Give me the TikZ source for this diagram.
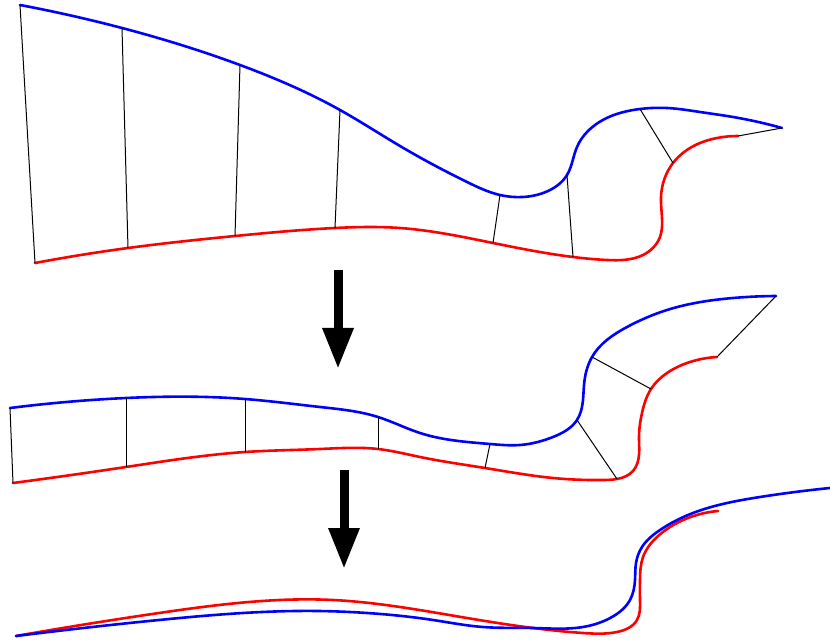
\documentclass[tikz,border=0pt]{standalone}
\usetikzlibrary{arrows.meta,hobby}
\begin{document}
\begin{tikzpicture}[x=1pt,y=-1pt,
  upper/.style={blue,line width=2.6pt,line cap=round,line join=round,use Hobby shortcut},
  lower/.style={red,line width=2.6pt,line cap=round,line join=round,use Hobby shortcut},
  rung/.style={black,line width=1pt},
  stage/.style={line width=9pt,-{Triangle[width=29pt,length=41pt]}}]
\useasboundingbox (0,0) rectangle (830,644);

% ---------- first stage: initial pair of curves ----------
\coordinate (ta1) at (20,5);   \coordinate (tb1) at (35,263);
\coordinate (ta2) at (122,28); \coordinate (tb2) at (128,248);
\coordinate (ta3) at (240,65); \coordinate (tb3) at (235,236);
\coordinate (ta4) at (340,110);\coordinate (tb4) at (335,228);
\coordinate (ta5) at (500,195);\coordinate (tb5) at (493,243);
\coordinate (ta6) at (567,175);\coordinate (tb6) at (573,257);
\coordinate (ta7) at (640,109);\coordinate (tb7) at (673,163);
\coordinate (ta8) at (782,128);\coordinate (tb8) at (738,136);

\draw[upper] (ta1) .. (ta2) .. (ta3) .. (ta4) .. (400,146) .. (467,182) .. (ta5)
  .. (523,197) .. (548,191) .. (ta6) .. (577,147) .. (595,125) .. (ta7)
  .. (667,108) .. (700,112) .. (733,117) .. (ta8);
\draw[lower] (tb1) .. (tb2) .. (tb3) .. (tb4) .. (400,228) .. (tb5) .. (tb6)
  .. (607,260) .. (643,255) .. (660,237) .. (662,218) .. (661,197) .. (tb7)
  .. (700,143) .. (717,138) .. (tb8);

\foreach \i in {1,...,8} \draw[rung] (ta\i) -- (tb\i);

\coordinate (s1) at (338,270); \coordinate (e1) at (338,369);
\draw[stage] (s1) -- (e1);

% ---------- second stage: curves after the first step ----------
\coordinate (ma1) at (10,408);  \coordinate (mb1) at (13,483);
\coordinate (ma2) at (126,398); \coordinate (mb2) at (126,467);
\coordinate (ma3) at (245,399); \coordinate (mb3) at (245,452);
\coordinate (ma4) at (378,417); \coordinate (mb4) at (378,449);
\coordinate (ma5) at (490,444); \coordinate (mb5) at (485,468);
\coordinate (ma6) at (577,420); \coordinate (mb6) at (617,479);
\coordinate (ma7) at (592,357); \coordinate (mb7) at (651,389);
\coordinate (ma8) at (776,296); \coordinate (mb8) at (717,357);

\draw[upper] (ma1) .. (ma2) .. (ma3) .. (320,407) .. (ma4) .. (420,433)
  .. (ma5) .. (520,445) .. (553,437) .. (ma6) .. (583,400) .. (584,385)
  .. (ma7) .. (627,327) .. (667,310) .. (733,298) .. (ma8);
\draw[lower] (mb1) .. (mb2) .. (mb3) .. (320,449) .. (mb4) .. (420,457)
  .. (mb5) .. (553,478) .. (603,480) .. (mb6) .. (633,471) .. (639,455)
  .. (639,436) .. (642,413) .. (mb7) .. (667,373) .. (690,362) .. (mb8);

\foreach \i in {1,...,8} \draw[rung] (ma\i) -- (mb\i);

\coordinate (s2) at (344,470); \coordinate (e2) at (344,569);
\draw[stage] (s2) -- (e2);

% ---------- third stage: the two curves nearly coincide ----------
\coordinate (ba) at (16,636);  \coordinate (bz) at (830,488);
\coordinate (ra) at (16,636);  \coordinate (rz) at (718,511);

\draw[lower] (ra) .. (159,613) .. (333,600) .. (400,607) .. (467,618)
  .. (533,628) .. (583,633) .. (617,632) .. (637,620) .. (640,600)
  .. (640,580) .. (643,557) .. (657,537) .. (677,523) .. (rz);
\draw[upper] (ba) .. (159,620) .. (318,611) .. (367,613) .. (433,620)
  .. (483,627) .. (533,628) .. (583,627) .. (612,617) .. (630,600)
  .. (635,580) .. (636,563) .. (642,547) .. (660,530) .. (693,513)
  .. (760,497) .. (bz);
\end{tikzpicture}
\end{document}
